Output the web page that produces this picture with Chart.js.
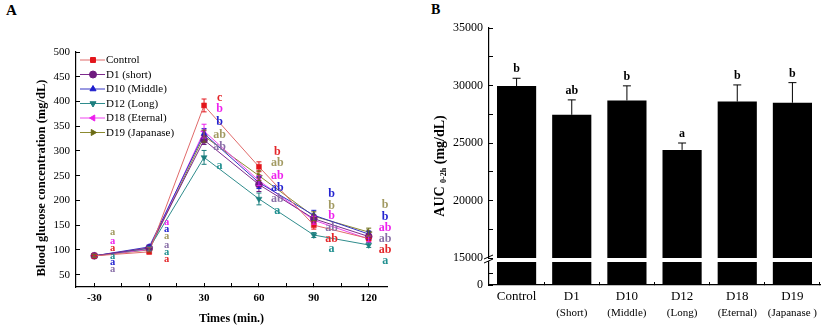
<!DOCTYPE html>
<html><head><meta charset="utf-8">
<script src="https://cdn.jsdelivr.net/npm/chart.js@4.4.0/dist/chart.umd.min.js"></script>
<style>
html,body{margin:0;padding:0;background:#fff;}
#wrap{position:relative;width:827px;height:329px;overflow:hidden;background:#fff;}
canvas{position:absolute;}
.lbl{position:absolute;font-family:'Liberation Serif',serif;font-weight:bold;color:#000;line-height:1;}
</style></head><body>
<div id="wrap">
<div class="lbl" style="left:6px;top:3px;font-size:15px;">A</div>
<div class="lbl" style="left:431px;top:3px;font-size:14px;">B</div>
<canvas id="cA" width="420" height="329" style="left:0;top:0;width:420px;height:329px"></canvas>
<canvas id="cBtop" width="397" height="266" style="left:430px;top:0;width:397px;height:266px"></canvas>
<canvas id="cBbot" width="397" height="71" style="left:430px;top:258px;width:397px;height:71px"></canvas>
</div>
<script>
// ---------- Panel A data ----------
const times = [-30, 0, 30, 60, 90, 120];
const seriesNames = ['Control', 'D1 (short)', 'D10 (Middle)', 'D12 (Long)', 'D18 (Eternal)', 'D19 (Japanase)'];
const controlVals = [88, 96, 392, 268, 150, 123];
const d1Vals      = [88, 104, 322, 232, 163, 127];
const d10Vals     = [88, 106, 335, 236, 170, 132];
const d12Vals     = [88, 103, 287, 203, 130, 110];
const d18Vals     = [88, 101, 340, 240, 160, 122];
const d19Vals     = [88, 100, 330, 250, 168, 136];
const controlErr = [3, 4, 13, 10, 8, 5];
const d1Err      = [3, 4, 9, 14, 8, 6];
const d10Err     = [3, 4, 10, 12, 10, 6];
const d12Err     = [3, 4, 14, 12, 5, 5];
const d18Err     = [3, 4, 14, 10, 8, 6];
const d19Err     = [3, 4, 12, 10, 9, 8];
// significance letters per series per time point
const controlSig = ['a', 'a', 'c', 'b', 'ab', 'ab'];
const d1Sig      = ['a', 'a', 'ab', 'ab', 'ab', 'ab'];
const d10Sig     = ['a', 'a', 'b', 'ab', 'b', 'b'];
const d12Sig     = ['a', 'a', 'a', 'a', 'a', 'a'];
const d18Sig     = ['a', 'a', 'b', 'ab', 'b', 'ab'];
const d19Sig     = ['a', 'a', 'ab', 'ab', 'b', 'b'];
const yTicksA = [50, 100, 150, 200, 250, 300, 350, 400, 450, 500];
const xTicksA = [-30, 0, 30, 60, 90, 120];
const xMinorA = [-15, 15, 45, 75, 105];

// ---------- Panel B data ----------
const aucGroups = ['Control', 'D1', 'D10', 'D12', 'D18', 'D19'];
const aucSubLabels = ['', '(Short)', '(Middle)', '(Long)', '(Eternal)', '(Japanase )'];
const aucMean = [29950, 27450, 28700, 24400, 28600, 28500];
const aucSem  = [680, 1300, 1270, 600, 1450, 1750];
const aucSig  = ['b', 'ab', 'b', 'a', 'b', 'b'];
const yTicksBUpper = [15000, 20000, 25000, 30000, 35000];
const yMinorBUpper = [17500, 22500, 27500, 32500];

// ---------- styling (kept separate from data) ----------
const SERIF = "'Liberation Serif', 'Times New Roman', serif";
const lineColors  = ['#e06a6a', '#7d2a8c', '#3434c4', '#2f8c8c', '#ee44ee', '#8c8a30'];
const pointColors = ['#e3161c', '#6e1a7e', '#1c1ccc', '#1c7f7f', '#ee1cee', '#6b6b14'];
const letterColors = ['#e3262a', '#8a70a8', '#2424d0', '#1f8f8f', '#ee22ee', '#a29a62'];
const pointStyles = [
  {style: 'rect', rot: 0}, {style: 'circle', rot: 0}, {style: 'triangle', rot: 0},
  {style: 'triangle', rot: 180}, {style: 'triangle', rot: -90}, {style: 'triangle', rot: 90}
];
// letter label anchors (data units)
const sigLabelX = [-20, 9.5, 38.5, 70, 99.7, 129];
const sigLabelY = [
  [104, 82, 407, 298, 123, 100],
  [60, 110, 308, 203, 145, 123],
  [74, 141, 358, 225, 213, 167],
  [88, 96, 270, 179, 101, 78],
  [118, 155, 384, 249, 169, 145],
  [135, 127, 332, 276, 189, 191]
];

const seriesVals = [controlVals, d1Vals, d10Vals, d12Vals, d18Vals, d19Vals];
const seriesErr  = [controlErr, d1Err, d10Err, d12Err, d18Err, d19Err];
const seriesSig  = [controlSig, d1Sig, d10Sig, d12Sig, d18Sig, d19Sig];

Chart.defaults.font.family = SERIF;
Chart.defaults.color = '#000';

const datasetsA = seriesNames.map((name, s) => ({
  label: name,
  data: times.map((t, i) => ({x: t, y: seriesVals[s][i]})),
  borderColor: lineColors[s],
  backgroundColor: pointColors[s],
  pointBackgroundColor: pointColors[s],
  pointBorderColor: pointColors[s],
  pointBorderWidth: 0.5,
  borderWidth: 1,
  pointRadius: 3.5,
  pointStyle: pointStyles[s].style,
  rotation: pointStyles[s].rot,
  tension: 0
}));

const panelAPlugin = {
  id: 'panelA',
  afterDatasetsDraw(chart) {
    const ctx = chart.ctx;
    const xs = chart.scales.x, ys = chart.scales.y;
    ctx.save();
    // error bars
    chart.data.datasets.forEach((ds, s) => {
      ctx.strokeStyle = pointColors[s];
      ctx.lineWidth = 1;
      times.forEach((t, i) => {
        const x = xs.getPixelForValue(t);
        const y1 = ys.getPixelForValue(seriesVals[s][i] + seriesErr[s][i]);
        const y2 = ys.getPixelForValue(seriesVals[s][i] - seriesErr[s][i]);
        ctx.beginPath();
        ctx.moveTo(x, y1); ctx.lineTo(x, y2);
        ctx.moveTo(x - 2.5, y1); ctx.lineTo(x + 2.5, y1);
        ctx.moveTo(x - 2.5, y2); ctx.lineTo(x + 2.5, y2);
        ctx.stroke();
      });
    });
    // significance letters
    ctx.textAlign = 'center';
    ctx.textBaseline = 'middle';
    seriesSig.forEach((sig, s) => {
      ctx.fillStyle = letterColors[s];
      sig.forEach((txt, i) => {
        ctx.font = (i < 2 ? 'bold 10.5px ' : 'bold 12px ') + SERIF;
        ctx.fillText(txt, xs.getPixelForValue(sigLabelX[i]), ys.getPixelForValue(sigLabelY[s][i]));
      });
    });
    // legend (inside plot area)
    const rowY0 = 60, rowDy = 14.5;
    ctx.textAlign = 'left';
    ctx.font = '11px ' + SERIF;
    chart.data.datasets.forEach((ds, s) => {
      const y = rowY0 + s * rowDy;
      ctx.strokeStyle = lineColors[s];
      ctx.lineWidth = 1;
      ctx.beginPath(); ctx.moveTo(80, y); ctx.lineTo(105, y); ctx.stroke();
      ctx.fillStyle = pointColors[s];
      ctx.strokeStyle = pointColors[s];
      Chart.helpers.drawPoint(ctx, {pointStyle: pointStyles[s].style, rotation: pointStyles[s].rot, radius: 3.5, borderWidth: 0.5}, 93, y);
      ctx.fillStyle = '#000';
      ctx.fillText(ds.label, 106, y + 0.5);
    });
    // y axis title
    ctx.save();
    ctx.translate(42, 178);
    ctx.rotate(-Math.PI / 2);
    ctx.font = 'bold 12.5px ' + SERIF;
    ctx.textAlign = 'center';
    ctx.fillStyle = '#000';
    ctx.fillText('Blood glucose concentration (mg/dL)', 0, 0);
    ctx.restore();
    ctx.restore();
  }
};

new Chart(document.getElementById('cA'), {
  type: 'line',
  data: {datasets: datasetsA},
  options: {
    responsive: false, animation: false, devicePixelRatio: 1,
    layout: {padding: {left: 0, top: 52, right: 33, bottom: 0}},
    plugins: {legend: {display: false}, tooltip: {enabled: false}},
    scales: {
      x: {
        type: 'linear', min: -40, max: 130,
        afterBuildTicks: (s) => { s.ticks = xTicksA.concat(xMinorA).sort((a, b) => a - b).map(v => ({value: v})); },
        afterFit: (s) => { s.height = 42; },
        ticks: {
          padding: 9, font: {size: 11, weight: 'bold'}, color: '#000', autoSkip: false, maxRotation: 0,
          callback: (v) => (xTicksA.includes(v) ? String(v) : '')
        },
        grid: {drawOnChartArea: false, drawTicks: true, tickLength: -4, color: '#000'},
        border: {display: true, color: '#000', width: 1.2},
        title: {display: true, text: 'Times (min.)', font: {size: 12, weight: 'bold'}, color: '#000', padding: {top: 0, bottom: 3}}
      },
      y: {
        type: 'linear', min: 25, max: 500,
        afterBuildTicks: (s) => { s.ticks = yTicksA.map(v => ({value: v})); },
        afterFit: (s) => { s.width = 76; },
        ticks: {padding: 10, font: {size: 11}, color: '#000'},
        grid: {drawOnChartArea: false, drawTicks: true, tickLength: -4, color: '#000'},
        border: {display: true, color: '#000', width: 1.2}
      }
    }
  },
  plugins: [panelAPlugin]
});

// ---------- Panel B upper (15000-35000) ----------
const panelBTopPlugin = {
  id: 'panelBTop',
  afterDatasetsDraw(chart) {
    const ctx = chart.ctx;
    const xs = chart.scales.x, ys = chart.scales.y;
    ctx.save();
    ctx.strokeStyle = '#000'; ctx.fillStyle = '#000'; ctx.lineWidth = 1;
    aucMean.forEach((m, i) => {
      const x = xs.getPixelForValue(i);
      const yt = ys.getPixelForValue(m + aucSem[i]);
      const yb = ys.getPixelForValue(m);
      ctx.beginPath();
      ctx.moveTo(x, yb); ctx.lineTo(x, yt);
      ctx.moveTo(x - 4, yt); ctx.lineTo(x + 4, yt);
      ctx.stroke();
      ctx.font = 'bold 12px ' + SERIF;
      ctx.textAlign = 'center'; ctx.textBaseline = 'middle';
      ctx.fillText(aucSig[i], x, yt - 9);
    });
    // axis break marks
    const ax = chart.chartArea.left;
    const by = ys.getPixelForValue(15000);
    ctx.lineWidth = 1;
    ctx.beginPath();
    ctx.moveTo(ax - 5, by + 1); ctx.lineTo(ax + 4, by - 3);
    ctx.moveTo(ax - 5, by + 5); ctx.lineTo(ax + 4, by + 1);
    ctx.stroke();
    // y-axis title with subscript
    ctx.save();
    ctx.translate(10, 166);
    ctx.rotate(-Math.PI / 2);
    ctx.textBaseline = 'middle'; ctx.textAlign = 'left';
    const fMain = 'bold 14px ' + SERIF, fSub = 'bold 8px ' + SERIF;
    ctx.font = fMain; const w1 = ctx.measureText('AUC ').width;
    ctx.font = fSub; const w2 = ctx.measureText('0-2h').width;
    ctx.font = fMain; const w3 = ctx.measureText(' (mg/dL)').width;
    let xx = -(w1 + w2 + w3) / 2;
    ctx.font = fMain; ctx.fillText('AUC ', xx, 0); xx += w1;
    ctx.font = fSub; ctx.fillText('0-2h', xx, 4); xx += w2;
    ctx.font = fMain; ctx.fillText(' (mg/dL)', xx, 0);
    ctx.restore();
    ctx.restore();
  }
};

new Chart(document.getElementById('cBtop'), {
  type: 'bar',
  data: {labels: aucGroups, datasets: [{data: aucMean, backgroundColor: '#000', borderWidth: 0, categoryPercentage: 1, barPercentage: 0.71}]},
  options: {
    responsive: false, animation: false, devicePixelRatio: 1,
    layout: {padding: {left: 0, top: 28, right: 7, bottom: 8}},
    plugins: {legend: {display: false}, tooltip: {enabled: false}},
    scales: {
      x: {display: false, offset: true},
      y: {
        min: 15000, max: 35000,
        afterBuildTicks: (s) => { s.ticks = yTicksBUpper.concat(yMinorBUpper).sort((a, b) => a - b).map(v => ({value: v})); },
        afterFit: (s) => { s.width = 59; s.paddingTop = 0; s.paddingBottom = 0; },
        ticks: {padding: 10, font: {size: 12}, color: '#000', callback: (v) => (yTicksBUpper.includes(v) ? String(v) : '')},
        grid: {drawOnChartArea: false, drawTicks: true, tickLength: -4, color: '#000'},
        border: {display: true, color: '#000', width: 1.2}
      }
    }
  },
  plugins: [panelBTopPlugin]
});

// ---------- Panel B lower (0-...) ----------
const panelBBotPlugin = {
  id: 'panelBBot',
  afterDraw(chart) {
    const ctx = chart.ctx;
    const xs = chart.scales.x;
    ctx.save();
    ctx.fillStyle = '#000';
    ctx.font = '11px ' + SERIF;
    ctx.textAlign = 'center'; ctx.textBaseline = 'middle';
    aucSubLabels.forEach((t, i) => { if (t) ctx.fillText(t, xs.getPixelForValue(i), 55); });
    ctx.restore();
  }
};

new Chart(document.getElementById('cBbot'), {
  type: 'bar',
  data: {labels: aucGroups, datasets: [{data: aucMean, backgroundColor: '#000', borderWidth: 0, categoryPercentage: 1, barPercentage: 0.71}]},
  options: {
    responsive: false, animation: false, devicePixelRatio: 1,
    layout: {padding: {left: 0, top: 4, right: 7, bottom: 0}},
    plugins: {legend: {display: false}, tooltip: {enabled: false}},
    scales: {
      x: {
        offset: true,
        afterFit: (s) => { s.height = 44; },
        ticks: {padding: 7, font: {size: 13}, color: '#000', autoSkip: false, maxRotation: 0},
        grid: {drawOnChartArea: false, drawTicks: true, tickLength: -3, color: '#000', offset: true},
        border: {display: true, color: '#000', width: 1.2}
      },
      y: {
        min: 0, max: 5000,
        afterBuildTicks: (s) => { s.ticks = [{value: 0}, {value: 2500}]; },
        afterFit: (s) => { s.width = 59; s.paddingTop = 0; s.paddingBottom = 0; },
        ticks: {padding: 10, font: {size: 12}, color: '#000', callback: (v) => (v === 0 ? '0' : '')},
        grid: {drawOnChartArea: false, drawTicks: true, tickLength: -4, color: '#000'},
        border: {display: true, color: '#000', width: 1.2}
      }
    }
  },
  plugins: [panelBBotPlugin]
});
</script>
</body></html>
